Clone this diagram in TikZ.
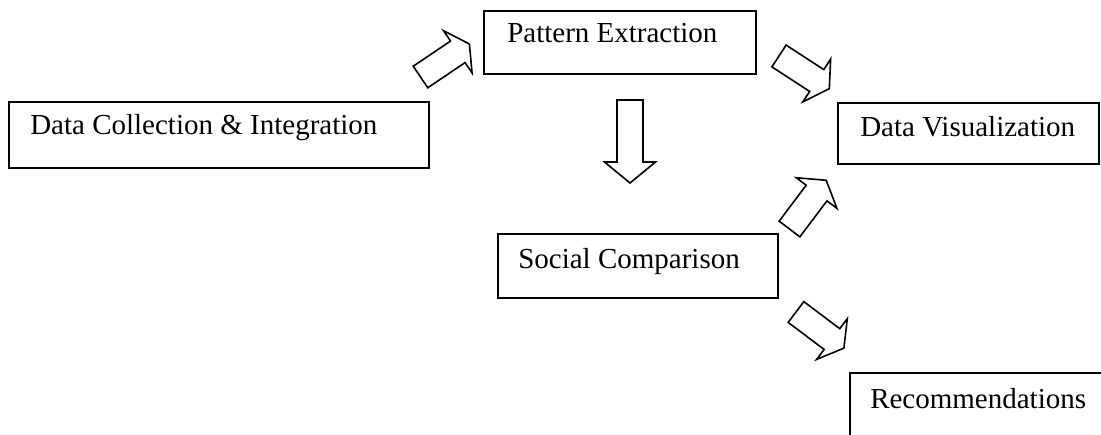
\documentclass[tikz,border=0pt]{standalone}
\usepackage{fontspec}
\setmainfont{Liberation Serif}
\newcommand\blockarrow[4]{% tail centre, direction, shaft length, head length
  \begin{scope}[shift={#1}, rotate=#2]
    \draw[barrow] (0,-13) -- (#3,-13) -- (#3,-25.5) -- ({#3+#4},0)
      -- (#3,25.5) -- (#3,13) -- (0,13) -- cycle;
  \end{scope}}
\begin{document}
\begin{tikzpicture}[x=0.75pt, y=-0.75pt,
  box/.style={draw, line width=1.4pt, anchor=north west, inner sep=0pt},
  lbl/.style={anchor=base west, inner sep=0pt,
    font=\fontsize{21.75pt}{26pt}\selectfont},
  barrow/.style={draw, fill=white, line width=1.2pt, line join=miter}]
\useasboundingbox (0,0) rectangle (1101,435);
\clip (0,0) rectangle (1101,435);
\fill[white] (0,0) rectangle (1101,435);

% process boxes
\node[box, minimum width=315pt, minimum height=49.5pt] (dc) at (8,101) {};
\node[lbl] (dct) at ([shift={(22,34)}]dc.north west) {Data Collection \& Integration};

\node[box, minimum width=204pt, minimum height=47.25pt] (pe) at (483,10) {};
\node[lbl] (pet) at ([shift={(24,33)}]pe.north west) {Pattern Extraction};

\node[box, minimum width=195.75pt, minimum height=45.75pt] (dv) at (837,102) {};
\node[lbl] (dvt) at ([shift={(23,35)}]dv.north west) {Data Visualization};

\node[box, minimum width=210pt, minimum height=48pt] (sc) at (497,233) {};
\node[lbl] (sct) at ([shift={(21,35)}]sc.north west) {Social Comparison};

\node[box, minimum width=210pt, minimum height=60pt] (rc) at (849,372) {};
\node[lbl] (rct) at ([shift={(21,36)}]rc.north west) {Recommendations};

% block arrows between the stages
\blockarrow{(420.5,77)}{34}{45}{14}
\blockarrow{(779,56)}{-33}{45}{15}
\blockarrow{(630,100)}{-90}{62}{21}
\blockarrow{(789.5,229)}{53}{45}{16}
\blockarrow{(796,312)}{-37}{45}{15}
\end{tikzpicture}
\end{document}
